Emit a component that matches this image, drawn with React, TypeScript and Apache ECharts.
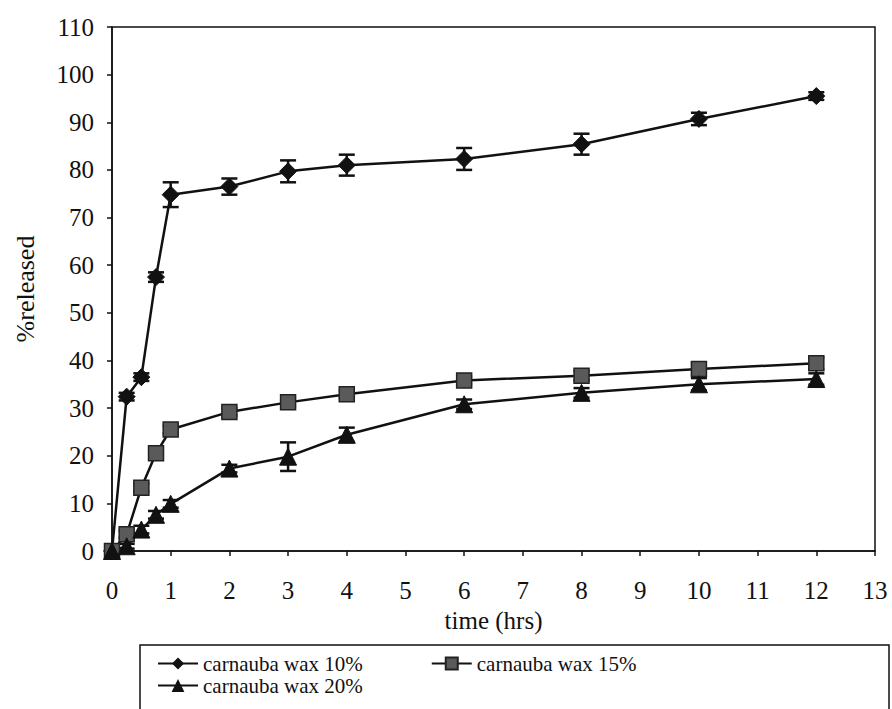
import React, { useEffect, useRef } from "react";
import * as echarts from "echarts";

const times = [0, 0.25, 0.5, 0.75, 1, 2, 3, 4, 6, 8, 10, 12];
const wax10 = [0, 32.4, 36.5, 57.5, 74.8, 76.5, 79.7, 81.0, 82.3, 85.4, 90.7, 95.5];
const wax15 = [0, 3.5, 13.3, 20.5, 25.5, 29.2, 31.2, 32.9, 35.8, 36.8, 38.2, 39.4];
const wax20 = [0, 1.0, 4.5, 7.6, 9.9, 17.3, 19.8, 24.4, 30.8, 33.2, 35.0, 36.1];
const sd10 = [0, 0.8, 0.8, 1.0, 2.6, 1.7, 2.3, 2.2, 2.3, 2.2, 1.3, 0.8];
const sd15 = [0, 0.8, 0.8, 0.8, 0.8, 0.8, 0.8, 0.8, 0.8, 1.0, 1.2, 1.2];
const sd20 = [0, 0.5, 0.8, 0.8, 0.8, 0.8, 3.0, 1.5, 1.0, 1.0, 1.3, 1.2];
const seriesNames = ["carnauba wax 10%", "carnauba wax 15%", "carnauba wax 20%"];

const FONT = "Liberation Serif";
const INK = "#111";

function pairs(vals: number[]) {
  return times.map((t, i) => [t, vals[i]]);
}
function errs(vals: number[], sd: number[]) {
  return times.map((t, i) => [t, vals[i] - sd[i], vals[i] + sd[i]]);
}

function errorSeries(vals: number[], sd: number[]) {
  return {
    type: "custom",
    silent: true,
    z: 1,
    data: errs(vals, sd),
    renderItem: (params: any, api: any) => {
      const x = api.value(0);
      const lo = api.coord([x, api.value(1)]);
      const hi = api.coord([x, api.value(2)]);
      const w = 8;
      const st = { stroke: INK, lineWidth: 2.5 };
      return {
        type: "group",
        children: [
          { type: "line", shape: { x1: lo[0], y1: lo[1], x2: hi[0], y2: hi[1] }, style: st },
          { type: "line", shape: { x1: lo[0] - w, y1: lo[1], x2: lo[0] + w, y2: lo[1] }, style: st },
          { type: "line", shape: { x1: hi[0] - w, y1: hi[1], x2: hi[0] + w, y2: hi[1] }, style: st },
        ],
      };
    },
  };
}

export default function App() {
  const ref = useRef<HTMLDivElement>(null);
  useEffect(() => {
    if (!ref.current) return;
    const chart = echarts.init(ref.current, null, { renderer: "svg" });
    const legendText = { fontFamily: FONT, fontSize: 21, color: INK };
    chart.setOption({
      animation: false,
      backgroundColor: "#fff",
      textStyle: { fontFamily: FONT, color: INK },
      grid: {
        left: 112,
        right: 17,
        top: 27,
        bottom: 158,
        show: true,
        borderColor: INK,
        borderWidth: 1.5,
        backgroundColor: "transparent",
      },
      xAxis: {
        type: "value",
        min: 0,
        max: 13,
        interval: 1,
        name: "time (hrs)",
        nameLocation: "middle",
        nameGap: 56,
        nameTextStyle: { fontFamily: FONT, fontSize: 25, color: INK },
        axisLine: { show: true, lineStyle: { color: INK, width: 1.5 } },
        axisTick: { show: true, length: 5, inside: false, lineStyle: { color: INK, width: 1.5 } },
        axisLabel: { fontFamily: FONT, fontSize: 25, color: INK, margin: 27 },
        splitLine: { show: false },
      },
      yAxis: {
        type: "value",
        min: 0,
        max: 110,
        interval: 10,
        name: "%released",
        nameLocation: "middle",
        nameGap: 74,
        nameRotate: 90,
        nameTextStyle: { fontFamily: FONT, fontSize: 26, color: INK },
        axisLine: { show: true, lineStyle: { color: INK, width: 1.5 } },
        axisTick: { show: true, length: 5, inside: false, lineStyle: { color: INK, width: 1.5 } },
        axisLabel: { fontFamily: FONT, fontSize: 25, color: INK, margin: 18 },
        splitLine: { show: false },
      },
      legend: [
        {
          data: [seriesNames[0], seriesNames[1]],
          left: 157,
          top: 653,
          padding: 0,
          itemGap: 68,
          itemWidth: 40,
          itemHeight: 15,
          textStyle: legendText,
          selectedMode: false,
        },
        {
          data: [seriesNames[2]],
          left: 157,
          top: 675,
          padding: 0,
          itemWidth: 40,
          itemHeight: 16,
          textStyle: legendText,
          selectedMode: false,
        },
      ],
      graphic: [
        {
          type: "rect",
          shape: { x: 140, y: 645, width: 749, height: 80 },
          style: { fill: "none", stroke: INK, lineWidth: 1.5 },
        },
      ],
      series: [
        errorSeries(wax10, sd10),
        errorSeries(wax15, sd15),
        errorSeries(wax20, sd20),
        {
          name: seriesNames[0],
          type: "line",
          data: pairs(wax10),
          symbol: "diamond",
          symbolSize: 17,
          z: 3,
          lineStyle: { color: INK, width: 2.5 },
          itemStyle: { color: INK, borderColor: INK },
        },
        {
          name: seriesNames[1],
          type: "line",
          data: pairs(wax15),
          symbol: "rect",
          symbolSize: 15,
          z: 3,
          lineStyle: { color: INK, width: 2.5 },
          itemStyle: { color: "#5a5a5a", borderColor: "#222", borderWidth: 1.5 },
        },
        {
          name: seriesNames[2],
          type: "line",
          data: pairs(wax20),
          symbol: "triangle",
          symbolSize: 17,
          z: 3,
          lineStyle: { color: INK, width: 2.5 },
          itemStyle: { color: INK, borderColor: INK },
        },
      ],
    });
    return () => chart.dispose();
  }, []);
  return (
    <div
      ref={ref}
      style={{ position: "fixed", left: 0, top: 0, width: 892, height: 709, background: "#fff" }}
    />
  );
}
